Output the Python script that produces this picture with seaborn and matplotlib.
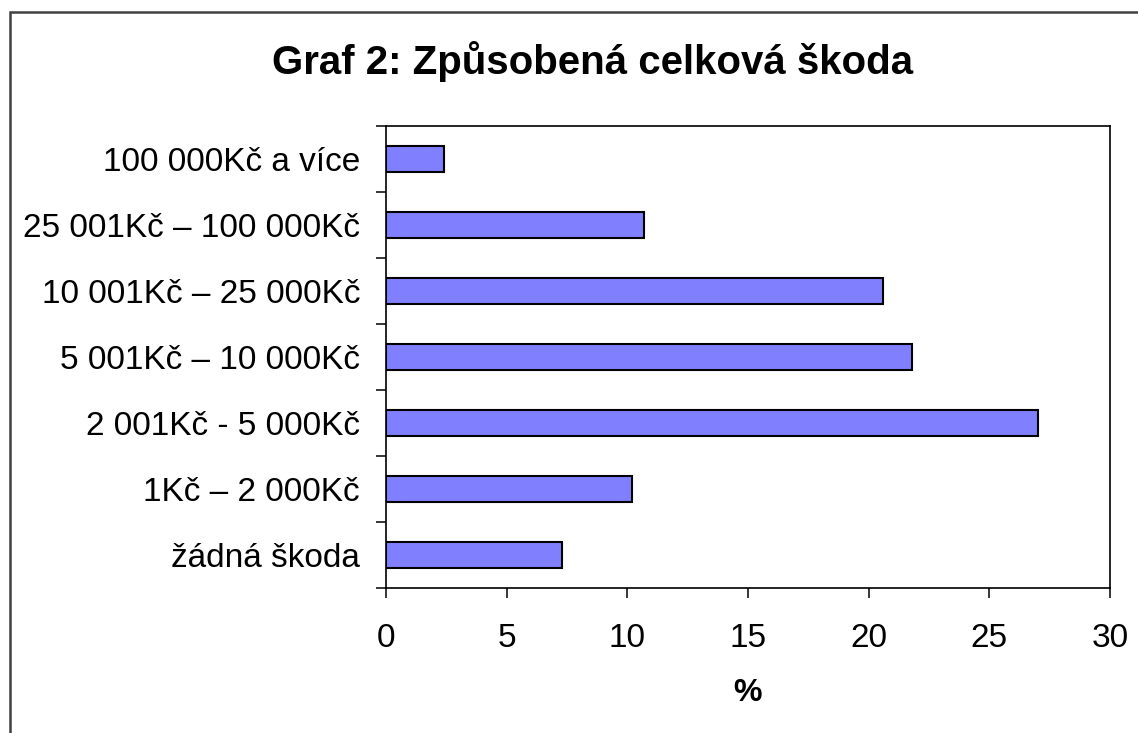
import matplotlib
matplotlib.use("Agg")
import matplotlib.pyplot as plt
import seaborn as sns
import pandas as pd
from matplotlib.patches import Rectangle
from matplotlib.ticker import FixedLocator

# ---- data (top to bottom, as in the chart) ----
categories = [
    "100 000Kč a více",
    "25 001Kč – 100 000Kč",
    "10 001Kč – 25 000Kč",
    "5 001Kč – 10 000Kč",
    "2 001Kč - 5 000Kč",
    "1Kč – 2 000Kč",
    "žádná škoda",
]
values = [2.4, 10.7, 20.6, 21.8, 27.0, 10.2, 7.3]
x_ticks = [0, 5, 10, 15, 20, 25, 30]
title = "Graf 2: Způsobená celková škoda"
x_label = "%"

sns.set_theme(style="ticks")
plt.rcParams['font.family'] = ['Liberation Sans', 'DejaVu Sans']

W, H = 1138, 733
fig = plt.figure(figsize=(W / 100, H / 100), dpi=100)
fig.patch.set_facecolor("white")

left, right, top, bottom = 386, 1110, 126, 588
ax = fig.add_axes([left / W, 1 - bottom / H, (right - left) / W, (bottom - top) / H])

df = pd.DataFrame({"kategorie": categories, "procento": values})
sns.barplot(data=df, x="procento", y="kategorie", order=categories,
            color="#8080FF", saturation=1, width=0.4,
            edgecolor="black", linewidth=1.5, ax=ax)

n = len(categories)
ax.set_xlim(0, 30)
ax.set_xticks(x_ticks)
ax.set_ylim(n - 0.5, -0.5)
ax.yaxis.set_minor_locator(FixedLocator([i - 0.5 for i in range(n + 1)]))
ax.tick_params(axis="y", which="major", length=0, pad=18.7, labelsize=24, labelcolor="black")
ax.tick_params(axis="y", which="minor", length=7.2, width=1.1, color="black", left=True, direction="out")
ax.tick_params(axis="x", which="major", length=7.2, width=1.1, color="black", direction="out",
               labelsize=24, pad=18, labelcolor="black")
for s in ax.spines.values():
    s.set_visible(True)
    s.set_color("black")
    s.set_linewidth(1.2)

ax.set_ylabel("")
ax.set_xlabel(x_label, fontsize=23, fontweight="bold", color="black")
ax.xaxis.set_label_coords(0.5, (bottom - 693) / (bottom - top))
ax.xaxis.label.set_va("center")

fig.text(593 / W, 1 - 62 / H, title, ha="center", va="center",
         fontsize=29, fontweight="bold", color="black")

frame = Rectangle((10 / W, -0.1), 1.2, (1 - 12 / H) + 0.1, transform=fig.transFigure,
                  fill=False, edgecolor="#404040", linewidth=1.8, zorder=0)
fig.patches.append(frame)

fig.savefig("out.png", dpi=100)
